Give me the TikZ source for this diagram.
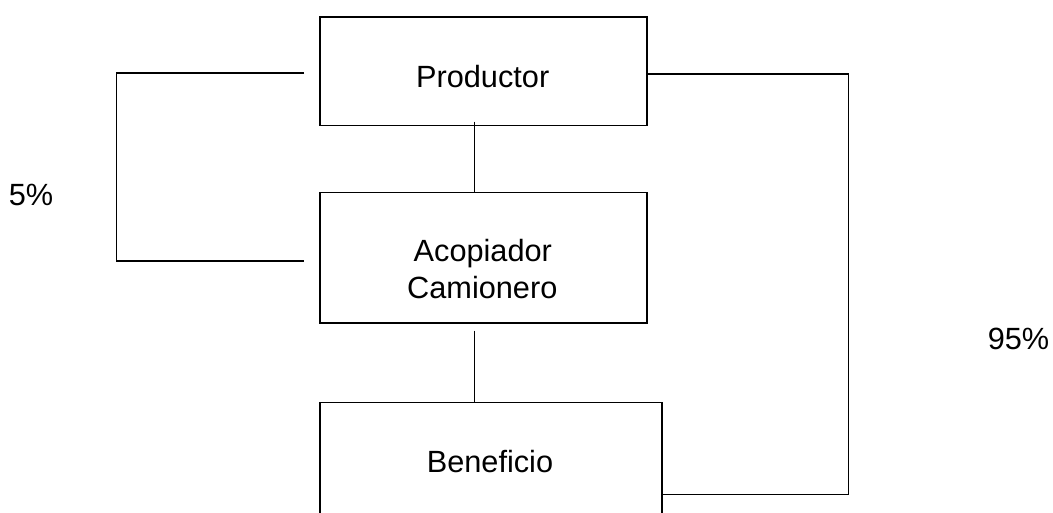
\documentclass[tikz,border=0pt]{standalone}
\usepackage{fontspec}
\setmainfont{Liberation Sans}
\begin{document}
\begin{tikzpicture}[x=1pt,y=-1pt,
  boxn/.style={draw=black,line width=1.5pt,rectangle,inner sep=0pt,anchor=north west},
  lbl/.style={inner sep=0pt,anchor=base,font=\fontsize{30.7}{36}\selectfont},
  conn/.style={draw=black,line width=1.5pt}]
\clip (0,0) rectangle (1053,513);
\fill[white] (0,0) rectangle (1053,513);
% boxes
\node[boxn,minimum width=327pt,minimum height=108.7pt] (prod) at (319,16.3) {};
\node[boxn,minimum width=327pt,minimum height=130.6pt] (acop) at (319,191.7) {};
\node[boxn,minimum width=342pt,minimum height=160pt] (bene) at (319,401.7) {};
% texts
\node[lbl] (tprod) at (482.7,87.3) {Productor};
\node[lbl] (tacop1) at (482.8,261.7) {Acopiador};
\node[lbl] (tacop2) at (482.3,298.3) {Camionero};
\node[lbl] (tbene) at (490,472.3) {Beneficio};
\node[lbl] (t5) at (31,205.7) {5\%};
\node[lbl] (t95) at (1018.5,349) {95\%};
% connector coordinates
\coordinate (c1s) at (474.7,121.7);
\coordinate (c2s) at (474.7,330.7);
\coordinate (la) at (304,73);
\coordinate (lb) at (304,261);
\coordinate (rx) at (848.3,0);
% connectors
\draw[conn] (c1s) -- (c1s |- acop.north);
\draw[conn] (c2s) -- (c2s |- bene.north);
\draw[conn] (la) -- (116.7,73) -- (116.7,261) -- (lb);
\draw[conn] (prod.east |- 0,74) -- (rx |- 0,74) -- (rx |- 0,494.3) -- (bene.east |- 0,494.3);
\end{tikzpicture}
\end{document}
